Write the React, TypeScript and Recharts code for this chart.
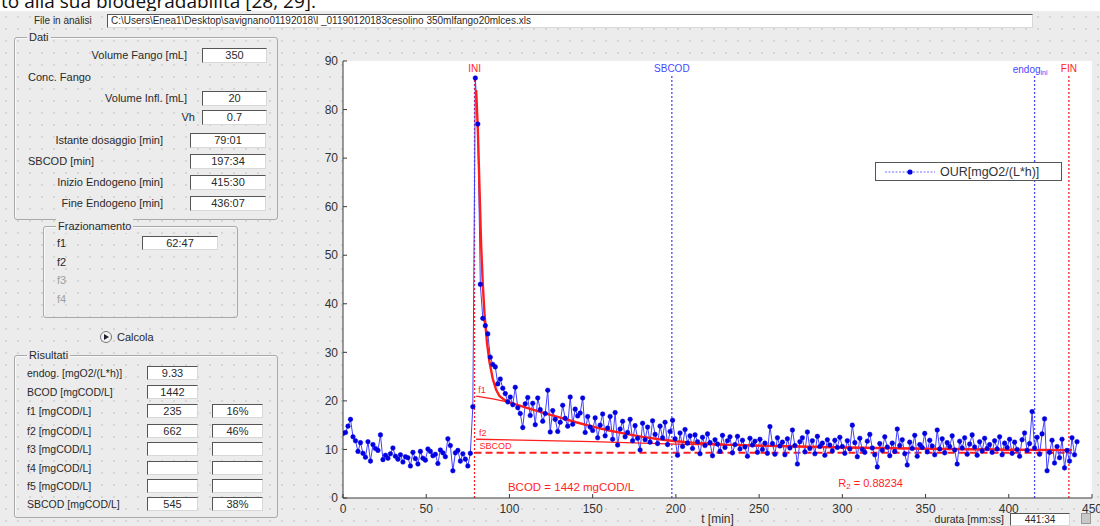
import React from 'react';
import {
  ComposedChart, Line, XAxis, YAxis, CartesianGrid, ReferenceLine, ReferenceDot, Legend,
} from 'recharts';

// ---------- data ----------
const xTicks = [0, 50, 100, 150, 200, 250, 300, 350, 400, 450];
const yTicks = [0, 10, 20, 30, 40, 50, 60, 70, 80, 90];

const OUR_STEP_MIN = 1.5;
const ourValues = [
  13.3, 13.5, 14.8, 16.2, 12.6, 11.8, 9.6, 11.4, 9.2, 8.4, 11.6, 7.6, 11.0, 10.2, 9.8, 13.0, 7.9, 8.8, 8.2, 9.1,
  10.3, 8.6, 8.0, 8.9, 7.4, 8.5, 8.3, 6.6, 9.4, 8.1, 7.0, 9.6, 8.2, 7.8, 10.1, 9.6, 8.7, 9.0, 7.1, 9.9,
  9.3, 8.5, 12.2, 10.8, 5.6, 9.3, 9.8, 7.6, 9.1, 8.0, 6.6, 9.2, 18.8, 86.5, 77.0, 44.0, 37.0, 35.5, 33.8, 29.0,
  27.5, 27.0, 23.5, 24.5, 22.6, 21.5, 19.8, 20.8, 19.2, 22.8, 18.6, 17.4, 14.5, 19.4, 20.7, 17.0, 19.5, 15.1, 20.6, 18.2,
  15.8, 17.4, 22.2, 13.6, 18.0, 16.2, 13.7, 15.6, 19.1, 16.4, 14.8, 20.8, 15.2, 18.3, 16.9, 17.5, 20.6, 13.5, 16.8, 14.6,
  13.9, 16.5, 12.4, 15.0, 17.3, 12.8, 14.4, 16.8, 12.1, 17.6, 10.9, 14.2, 15.8, 12.6, 13.5, 16.2, 11.8, 14.9, 12.3, 9.9,
  15.4, 12.0, 14.6, 11.5, 15.9, 13.1, 11.2, 14.8, 12.4, 15.6, 11.0, 13.7, 16.0, 12.2, 8.8, 13.4, 10.6, 14.1, 11.3, 12.8,
  10.2, 13.0, 11.6, 9.1, 12.5, 10.8, 13.2, 11.4, 8.7, 12.0, 11.1, 9.6, 12.9, 10.4, 11.8, 12.6, 9.3, 11.0, 12.7, 10.1,
  11.9, 10.5, 8.6, 12.3, 10.9, 11.7, 9.4, 12.1, 10.0, 11.3, 9.2, 14.7, 11.2, 9.0, 12.4, 10.7, 11.5, 8.9, 12.2, 10.3,
  14.0, 10.8, 7.0, 11.6, 12.4, 9.5, 13.6, 10.2, 11.8, 9.1, 12.7, 10.6, 11.3, 8.8, 12.0, 10.9, 9.7, 11.9, 10.4, 12.5,
  10.6, 9.2, 11.8, 10.1, 15.0, 11.4, 8.5, 12.3, 10.0, 9.4, 11.7, 13.1, 10.3, 8.9, 6.4, 11.2, 9.8, 12.6, 10.5, 8.7,
  11.3, 9.6, 14.2, 10.8, 12.0, 9.1, 6.8, 11.5, 10.2, 12.9, 8.6, 11.0, 10.4, 13.3, 9.5, 11.9, 10.7, 8.9, 14.0, 10.1,
  12.2, 9.3, 11.4, 10.6, 12.8, 9.9, 7.0, 11.7, 10.3, 12.4, 9.0, 11.1, 13.0, 10.5, 8.8, 11.6, 9.7, 12.3, 10.2, 11.0,
  9.4, 11.8, 10.1, 12.6, 8.9, 11.3, 10.4, 12.1, 9.2, 11.5, 10.0, 8.6, 12.0, 13.4, 9.8, 11.2, 17.8, 10.3, 12.5, 9.0,
  13.2, 16.3, 5.6, 9.4, 11.9, 7.2, 10.6, 8.3, 12.1, 6.2, 9.8, 7.6, 12.4, 8.9, 11.6,
];

const fitTimes = [80, 81, 82, 83, 84, 85, 86.5, 88, 90, 92, 94, 97, 100, 110, 120, 130, 140, 150, 160, 170, 180, 190, 200, 210, 230, 260, 300, 350, 400, 438];
const fitValues = [84, 76, 64, 52, 44, 38, 32, 28, 24.5, 22.3, 21.0, 20.2, 19.7, 18.6, 17.6, 16.6, 15.6, 14.7, 13.9, 13.2, 12.6, 12.1, 11.7, 11.4, 11.0, 10.7, 10.4, 10.15, 9.95, 9.85];

const f1Times = [80, 90, 100];
const f1Values = [21.0, 20.4, 19.7];

const f2Times = [80, 150, 200, 250, 300, 350, 400, 438];
const f2Values = [12.1, 11.6, 11.1, 10.75, 10.45, 10.15, 9.95, 9.85];

const endogTimes = [79.02, 438];
const endogValue = 9.33;

const markerTimes = [79.02, 197.57, 415.5, 436.12];
const markerNames = ['INI', 'SBCOD', 'endog', 'FIN'];

const RED = '#ff1e1e';
const markerColors = [RED, '#4848ff', '#4848ff', RED];

const ourData = ourValues.map((v, i) => ({ t: i * OUR_STEP_MIN, our: v }));
const fitData = fitTimes.map((t, i) => ({ t, fit: fitValues[i] }));
const f1Data = f1Times.map((t, i) => ({ t, f1: f1Values[i] }));
const f2Data = f2Times.map((t, i) => ({ t, f2: f2Values[i] }));
const endogData = endogTimes.map((t) => ({ t, endog: endogValue }));

// ---------- GUI helpers ----------
const FONT = '"Liberation Sans", Arial, sans-serif';
const TXT = '#2a2a2a';

const Txt = ({ x, y, text, right, color, size }: any) => (
  <div
    style={{
      position: 'absolute',
      left: right ? x - 240 : x,
      width: right ? 240 : undefined,
      top: y - 7,
      height: 14,
      lineHeight: '14px',
      fontSize: size || 11,
      color: color || TXT,
      textAlign: right ? 'right' : 'left',
      whiteSpace: 'nowrap',
    }}
  >
    {text}
  </div>
);

const Box = ({ x, y, w, h, value, size }: any) => (
  <div
    style={{
      position: 'absolute',
      left: x,
      top: y - (h || 15) / 2,
      width: w,
      height: h || 15,
      boxSizing: 'border-box',
      background: '#fff',
      borderTop: '1px solid #555',
      borderLeft: '1px solid #555',
      borderRight: '1px solid #d8d8d8',
      borderBottom: '1px solid #d8d8d8',
      fontSize: size || 11,
      lineHeight: `${(h || 15) - 2}px`,
      textAlign: 'center',
      color: TXT,
      overflow: 'hidden',
      whiteSpace: 'nowrap',
    }}
  >
    {value}
  </div>
);

const Group = ({ x, y, w, h, title }: any) => (
  <div
    style={{
      position: 'absolute',
      left: x,
      top: y,
      width: w,
      height: h,
      boxSizing: 'border-box',
      border: '1px solid #a9a9a9',
      borderRadius: 3,
      boxShadow: 'inset 1px 1px 0 #fafafa',
    }}
  >
    <span
      style={{
        position: 'absolute',
        left: 12,
        top: -8,
        fontSize: 11,
        lineHeight: '14px',
        padding: '0 2px',
        background: '#ececec',
        color: TXT,
      }}
    >
      {title}
    </span>
  </div>
);

// ---------- chart label renderers ----------
const centerOf = (props: any) => {
  const vb = props.viewBox || {};
  return { x: (vb.x || 0) + (vb.width || 0) / 2, y: (vb.y || 0) + (vb.height || 0) / 2 };
};

const markerLabel = (i: number) => (props: any) => {
  const { x, y } = centerOf(props);
  if (markerNames[i] === 'endog') {
    return (
      <text x={x + 13} y={y} fill={markerColors[i]} fontSize={10} fontFamily={FONT} textAnchor="end" dominantBaseline="central">
        <tspan>endog</tspan>
        <tspan fontSize={7} dy={3}>ini</tspan>
      </text>
    );
  }
  return (
    <text x={x} y={y} fill={markerColors[i]} fontSize={10} fontFamily={FONT} textAnchor="middle" dominantBaseline="central">
      {markerNames[i]}
    </text>
  );
};

const plainLabel = (text: string, size: number, anchor: string) => (props: any) => {
  const { x, y } = centerOf(props);
  return (
    <text x={x} y={y} fill={RED} fontSize={size} fontFamily={FONT} textAnchor={anchor} dominantBaseline="central">
      {text}
    </text>
  );
};

const r2Label = (props: any) => {
  const { x, y } = centerOf(props);
  return (
    <text x={x} y={y} fill={RED} fontSize={11} fontFamily={FONT} textAnchor="middle" dominantBaseline="central">
      <tspan>R</tspan>
      <tspan fontSize={8} dy={3}>2</tspan>
      <tspan dy={-3}> = 0.88234</tspan>
    </text>
  );
};

const LegendBox = () => (
  <div
    style={{
      width: 187,
      height: 19,
      boxSizing: 'border-box',
      border: '1px solid #555',
      background: '#fff',
      display: 'flex',
      alignItems: 'center',
      fontFamily: FONT,
    }}
  >
    <svg width={58} height={10} style={{ marginLeft: 4 }}>
      <line x1={5} x2={55} y1={5} y2={5} stroke="#7070ff" strokeWidth={1.2} strokeDasharray="2 1.5" />
      <circle cx={30} cy={5} r={2.6} fill="#0000dd" />
    </svg>
    <span style={{ fontSize: 12.5, color: '#333', marginLeft: 2 }}>OUR[mgO2/(L*h)]</span>
  </div>
);

export default function App() {
  return (
    <div
      style={{
        position: 'absolute',
        left: 0,
        top: 0,
        width: 1100,
        height: 526,
        overflow: 'hidden',
        background: '#fff',
        fontFamily: FONT,
      }}
    >
      {/* document text above the screenshot */}
      <div
        style={{
          position: 'absolute',
          left: 1,
          top: -11,
          fontSize: 19,
          lineHeight: '24px',
          fontFamily: '"Open Sans", "Noto Sans", sans-serif',
          color: '#111',
          whiteSpace: 'nowrap',
        }}
      >
        to alla sua biodegradabilità [28, 29].
      </div>

      {/* GUI background */}
      <div
        style={{
          position: 'absolute',
          left: 0,
          top: 11,
          width: 1100,
          height: 515,
          backgroundColor: '#ececec',
          backgroundImage: 'radial-gradient(circle, #d6d6d6 0.8px, transparent 1.2px)',
          backgroundSize: '12px 12px',
        }}
      />

      {/* file row */}
      <Txt x={34} y={21} text="File in analisi" size={10} />
      <Box
        x={107}
        y={21}
        w={926}
        h={14}
        size={10}
        value={
          <span style={{ display: 'block', textAlign: 'left', paddingLeft: 3 }}>
            C:\Users\Enea1\Desktop\savignano01192018\l _01190120183cesolino 350mlfango20mlces.xls
          </span>
        }
      />

      {/* Dati */}
      <Group x={14} y={37} w={264} h={183} title="Dati" />
      <Txt x={187} y={55} text="Volume Fango [mL]" right />
      <Box x={202} y={55} w={65} value="350" />
      <Txt x={28} y={77} text="Conc. Fango" />
      <Txt x={187} y={98} text="Volume Infl. [mL]" right />
      <Box x={202} y={98} w={65} value="20" />
      <Txt x={195} y={117} text="Vh" right />
      <Box x={202} y={117} w={65} value="0.7" />
      <Txt x={163} y={140} text="Istante dosaggio [min]" right />
      <Box x={190} y={140} w={76} value="79:01" />
      <Txt x={28} y={161} text="SBCOD [min]" />
      <Box x={190} y={161} w={76} value="197:34" />
      <Txt x={163} y={182} text="Inizio Endogeno [min]" right />
      <Box x={190} y={182} w={76} value="415:30" />
      <Txt x={163} y={203} text="Fine Endogeno [min]" right />
      <Box x={190} y={203} w={76} value="436:07" />

      {/* Frazionamento */}
      <Group x={43} y={226} w={195} h={92} title="Frazionamento" />
      <Txt x={57} y={243} text="f1" />
      <Box x={142} y={243} w={76} h={14} value="62:47" />
      <Txt x={57} y={262} text="f2" />
      <Txt x={57} y={280} text="f3" color="#a0a0a0" />
      <Txt x={57} y={299} text="f4" color="#a0a0a0" />
      <div
        style={{
          position: 'absolute',
          left: 100,
          top: 331,
          width: 12,
          height: 12,
          boxSizing: 'border-box',
          borderRadius: 6,
          border: '1px solid #777',
          background: '#f4f4f4',
        }}
      >
        <div style={{ position: 'absolute', left: 3, top: 2, width: 0, height: 0, borderLeft: '5px solid #223', borderTop: '3.5px solid transparent', borderBottom: '3.5px solid transparent' }} />
      </div>
      <Txt x={117} y={337} text="Calcola" />

      {/* Risultati */}
      <Group x={14} y={355} w={264} h={163} title="Risultati" />
      <Txt x={27} y={373} text="endog. [mgO2/(L*h)]" size={10.5} />
      <Box x={147} y={373} w={51} h={14} value="9.33" />
      <Txt x={27} y={392} text="BCOD [mgCOD/L]" size={10.5} />
      <Box x={147} y={392} w={51} h={14} value="1442" />
      <Txt x={27} y={411} text="f1 [mgCOD/L]" size={10.5} />
      <Box x={147} y={411} w={51} h={14} value="235" />
      <Box x={212} y={411} w={51} h={14} value="16%" />
      <Txt x={27} y={431} text="f2 [mgCOD/L]" size={10.5} />
      <Box x={147} y={431} w={51} h={14} value="662" />
      <Box x={212} y={431} w={51} h={14} value="46%" />
      <Txt x={27} y={449} text="f3 [mgCOD/L]" size={10.5} />
      <Box x={147} y={449} w={51} h={14} value="" />
      <Box x={212} y={449} w={51} h={14} value="" />
      <Txt x={27} y={468} text="f4 [mgCOD/L]" size={10.5} />
      <Box x={147} y={468} w={51} h={14} value="" />
      <Box x={212} y={468} w={51} h={14} value="" />
      <Txt x={27} y={486} text="f5 [mgCOD/L]" size={10.5} />
      <Box x={147} y={486} w={51} h={14} value="" />
      <Box x={212} y={486} w={51} h={14} value="" />
      <Txt x={27} y={504} text="SBCOD [mgCOD/L]" size={10.5} />
      <Box x={147} y={504} w={51} h={14} value="545" />
      <Box x={212} y={504} w={51} h={14} value="38%" />

      {/* durata */}
      <Txt x={1004} y={519} text="durata [mm:ss]" right size={10.5} />
      <Box x={1010} y={519} w={60} h={13} value="441:34" size={10} />
      <div style={{ position: 'absolute', left: 1081, top: 513, width: 10, height: 11, background: '#c8c8c8', border: '1px solid #999', boxSizing: 'border-box' }} />

      {/* chart */}
      <div style={{ position: 'absolute', left: 0, top: 0 }}>
        <ComposedChart width={1100} height={526} margin={{ top: 61, right: 8, bottom: 0, left: 303 }}>
          <CartesianGrid fill="#ffffff" horizontal={false} vertical={false} />
          <XAxis
            dataKey="t"
            type="number"
            domain={[0, 450]}
            ticks={xTicks}
            interval={0}
            allowDataOverflow
            height={28}
            stroke="#3a3a3a"
            tickSize={-4}
            tickMargin={10}
            tick={{ fill: '#333', fontSize: 12, fontFamily: FONT }}
            label={{ value: 't [min]', position: 'insideBottom', offset: 3, fill: '#333', fontSize: 12, fontFamily: FONT }}
          />
          <XAxis
            xAxisId="top"
            orientation="top"
            type="number"
            domain={[0, 450]}
            ticks={xTicks}
            interval={0}
            allowDataOverflow
            height={0}
            stroke="#3a3a3a"
            tickSize={-4}
            tickFormatter={() => ''}
          />
          <YAxis
            type="number"
            domain={[0, 90]}
            ticks={yTicks}
            interval={0}
            allowDataOverflow
            width={40}
            stroke="#3a3a3a"
            tickSize={-4}
            tickMargin={9}
            tick={{ fill: '#333', fontSize: 12, fontFamily: FONT }}
          />
          <YAxis
            yAxisId="right"
            orientation="right"
            type="number"
            domain={[0, 90]}
            ticks={yTicks}
            interval={0}
            allowDataOverflow
            width={0}
            stroke="#3a3a3a"
            tickSize={-4}
            tickFormatter={() => ''}
          />

          {markerTimes.map((t, i) => (
            <ReferenceLine
              key={'ml' + i}
              segment={[{ x: t, y: 0 }, { x: t, y: 87.3 }]}
              stroke={markerColors[i]}
              strokeWidth={1.3}
              strokeDasharray="2 2"
            />
          ))}

          <Line
            data={endogData}
            dataKey="endog"
            stroke={RED}
            strokeWidth={2}
            strokeDasharray="7 4"
            dot={false}
            legendType="none"
            isAnimationActive={false}
          />
          <Line
            data={ourData}
            dataKey="our"
            name="OUR[mgO2/(L*h)]"
            stroke="#4040ff"
            strokeWidth={1}
            dot={{ r: 2.3, fill: '#0000e0', stroke: '#0000e0', strokeWidth: 0.5 }}
            isAnimationActive={false}
          />
          <Line
            data={f2Data}
            dataKey="f2"
            stroke={RED}
            strokeWidth={1.3}
            dot={false}
            legendType="none"
            isAnimationActive={false}
          />
          <Line
            data={f1Data}
            dataKey="f1"
            stroke={RED}
            strokeWidth={1.3}
            dot={false}
            legendType="none"
            isAnimationActive={false}
          />
          <Line
            data={fitData}
            dataKey="fit"
            stroke={RED}
            strokeWidth={2.4}
            dot={false}
            legendType="none"
            isAnimationActive={false}
          />

          {markerTimes.map((t, i) => (
            <ReferenceDot key={'md' + i} x={t} y={88.4} r={0} fill="none" stroke="none" label={markerLabel(i)} />
          ))}
          <ReferenceDot x={83.5} y={22.2} r={0} fill="none" stroke="none" label={plainLabel('f1', 9, 'middle')} />
          <ReferenceDot x={84} y={13.4} r={0} fill="none" stroke="none" label={plainLabel('f2', 9, 'middle')} />
          <ReferenceDot x={82} y={10.7} r={0} fill="none" stroke="none" label={plainLabel('SBCOD', 9, 'start')} />
          <ReferenceDot x={137} y={2.3} r={0} fill="none" stroke="none" label={plainLabel('BCOD = 1442 mgCOD/L', 11.5, 'middle')} />
          <ReferenceDot x={317} y={3.0} r={0} fill="none" stroke="none" label={r2Label} />

          <Legend
            layout="horizontal"
            align="center"
            verticalAlign="middle"
            content={() => <LegendBox />}
            wrapperStyle={{ left: 875, top: 162, width: 187, height: 19 }}
          />
        </ComposedChart>
      </div>
    </div>
  );
}
